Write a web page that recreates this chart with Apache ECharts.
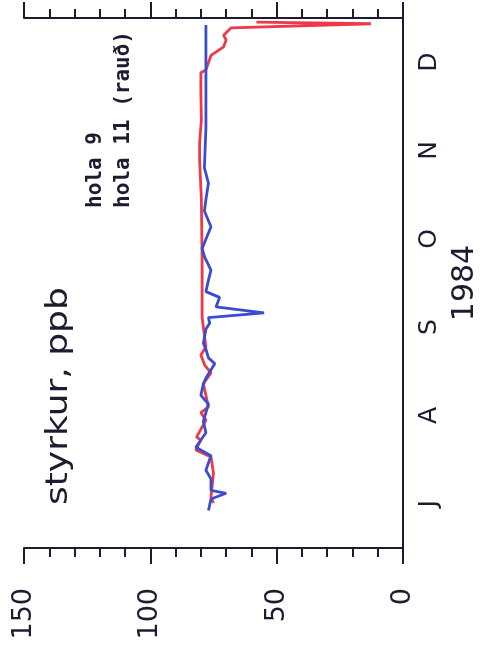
<!DOCTYPE html>
<html>
<head>
<meta charset="utf-8">
<script src="https://cdn.jsdelivr.net/npm/echarts@6/dist/echarts.min.js"></script>
<style>
  html, body { margin: 0; padding: 0; background: #fff; }
  #chart { width: 481px; height: 652px; }
</style>
</head>
<body>
<div id="chart"></div>
<script>
// months on the time axis (Jul - Dec 1984), drawn bottom to top
const months = ['J', 'A', 'S', 'O', 'N', 'D'];
const yearLabel = '1984';
const valueTicks = [0, 50, 100, 150];

// days counted from 1 July 1984
const hola9Days = [13, 17, 19, 20, 24, 27, 32, 35, 40, 44, 47, 50, 53, 57, 59, 64, 66, 69, 71, 76, 78, 80, 81.6, 83.7, 87, 89, 93, 96.5, 101, 104, 111.5, 117, 121, 126.7, 132, 146, 154.5, 169, 181.6];
const hola9Values = [77, 76, 70, 76, 76, 78, 76, 82, 78, 79, 78, 77, 80, 79, 78, 74.5, 77, 78, 79, 78, 76.5, 77, 55, 74, 72.6, 78, 77, 76, 78.5, 79.5, 76, 78.6, 78, 77, 78.6, 78, 78, 78, 78];

const hola11Days = [15.6, 17.7, 26, 31.6, 34, 37.5, 38.5, 44.4, 47, 49, 53, 57, 60.8, 63.5, 67, 69.8, 80, 100, 121, 125, 134.7, 140.6, 148.6, 158, 165, 166, 171, 174, 176.4, 178, 180.6, 182, 182.6];
const hola11Values = [75, 76, 75, 76, 82, 80, 81.7, 78, 80, 77, 78, 79, 76, 78.5, 80, 78, 79.5, 79.5, 79.8, 80, 80.5, 80.5, 79.8, 80, 80, 78, 76, 71, 70, 71, 68, 12.7, 58];

const ink = '#1c1c30';
const font = 'DejaVu Sans';

const chart = echarts.init(document.getElementById('chart'));

const tickAxis = {
  type: 'value',
  min: 0,
  max: 150,
  interval: 50,
  inverse: true,
  splitLine: { show: false },
  axisLine: { lineStyle: { color: ink, width: 2 } },
  axisTick: { length: 16, lineStyle: { color: ink, width: 2 } },
  minorTick: { show: true, splitNumber: 5, length: 9, lineStyle: { color: ink, width: 2 } }
};

chart.setOption({
  animation: false,
  grid: { left: 24, right: 78, top: 18, bottom: 104, containLabel: false, outerBoundsMode: 'none' },
  xAxis: [
    Object.assign({}, tickAxis, {
      position: 'bottom',
      axisLabel: {
        rotate: 90,
        margin: 40,
        fontSize: 27,
        fontFamily: font,
        color: ink,
        formatter: v => (valueTicks.indexOf(v) >= 0 ? String(v) : '')
      }
    }),
    Object.assign({}, tickAxis, {
      position: 'top',
      axisLabel: { show: false }
    })
  ],
  yAxis: [
    {
      type: 'category',
      data: months,
      position: 'left',
      axisLine: { lineStyle: { color: ink, width: 2 } },
      axisTick: { length: 8, lineStyle: { color: ink, width: 2 } },
      axisLabel: { show: false }
    },
    {
      type: 'category',
      data: months,
      position: 'right',
      axisLine: { lineStyle: { color: ink, width: 2 } },
      axisTick: { length: 9, lineStyle: { color: ink, width: 2 } },
      axisLabel: { rotate: 90, margin: 14, fontSize: 25, fontFamily: font, color: ink },
      name: yearLabel,
      nameLocation: 'middle',
      nameRotate: 90,
      nameGap: 40,
      nameTextStyle: { fontSize: 30, fontFamily: font, color: ink }
    },
    {
      type: 'value',
      show: false,
      min: 0,
      max: 184
    }
  ],
  graphic: [
    {
      type: 'text',
      x: 44,
      y: 505,
      rotation: Math.PI / 2,
      scaleX: 1.2,
      style: {
        text: 'styrkur, ppb',
        font: '30px "DejaVu Sans"',
        fill: ink,
        align: 'left',
        verticalAlign: 'top'
      }
    },
    {
      type: 'text',
      x: 82,
      y: 208,
      rotation: Math.PI / 2,
      style: {
        text: 'hola 9\nhola 11 (rauð)',
        font: 'bold 21px "DejaVu Sans Mono"',
        lineHeight: 28,
        fill: ink,
        align: 'left',
        verticalAlign: 'top'
      }
    }
  ],
  series: [
    {
      name: 'hola 11',
      type: 'line',
      xAxisIndex: 0,
      yAxisIndex: 2,
      showSymbol: false,
      lineStyle: { color: '#ee3a48', width: 2.8 },
      data: hola11Days.map((d, i) => [hola11Values[i], d])
    },
    {
      name: 'hola 9',
      type: 'line',
      xAxisIndex: 0,
      yAxisIndex: 2,
      showSymbol: false,
      lineStyle: { color: '#3b4cd0', width: 2.8 },
      data: hola9Days.map((d, i) => [hola9Values[i], d])
    }
  ]
});
</script>
</body>
</html>
